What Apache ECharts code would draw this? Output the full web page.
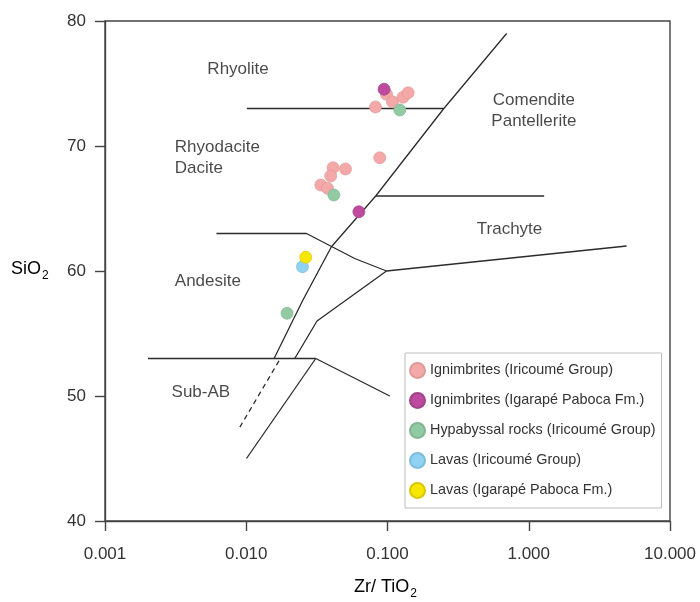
<!DOCTYPE html>
<html><head><meta charset="utf-8">
<script src="https://cdn.jsdelivr.net/npm/echarts@6/dist/echarts.min.js"></script>
<style>html,body{margin:0;padding:0;background:#fff}#c{width:700px;height:602px}</style>
</head><body><div id="c"></div>
<script>
// ---- tick labels ----
const xTickValues = [0.001, 0.01, 0.1, 1, 10];
const yTickValues = [40, 50, 60, 70, 80];

// ---- sample series (Zr/TiO2, SiO2) ----
const seriesNames = [
  'Ignimbrites (Iricoumé Group)',
  'Ignimbrites (Igarapé Paboca Fm.)',
  'Hypabyssal rocks (Iricoumé Group)',
  'Lavas (Iricoumé Group)',
  'Lavas (Igarapé Paboca Fm.)'
];
const ignimbritesIricoume = [
  [0.0984, 74.14], [0.1084, 73.54], [0.1288, 73.90], [0.140, 74.26], [0.0822, 73.12],
  [0.0881, 69.06], [0.0412, 68.26], [0.0504, 68.16], [0.0396, 67.60], [0.0337, 66.88], [0.0376, 66.62]
];
const ignimbritesPaboca = [[0.0946, 74.54], [0.0627, 64.74]];
const hypabyssalIricoume = [[0.1222, 72.88], [0.0417, 66.08], [0.01945, 56.62]];
const lavasIricoume = [[0.0250, 60.34]];
const lavasPaboca = [[0.02638, 61.10]];

// ---- classification boundaries (Zr/TiO2, SiO2) ----
const lineRhyolite = [[0.0101, 73], [0.2506, 73]];
const lineComendite = [[0.697, 79.0], [0.2506, 73], [0.0825, 66], [0.0401, 61.94], [0.0252, 57.68], [0.01574, 53]];
const lineTrachyte = [[0.0825, 66], [1.285, 66]];
const lineAndesite = [[0.00615, 63], [0.0267, 63], [0.0586, 61.0], [0.0984, 60], [4.93, 62]];
const lineTrachyandesite = [[0.0984, 60], [0.0317, 56], [0.02205, 53]];
const lineSubAB = [[0.002016, 53], [0.03105, 53]];
const lineSubABRight = [[0.03105, 53], [0.1038, 50]];
const lineSubABLower = [[0.03105, 53], [0.01004, 45]];
const lineDashed = [[0.01706, 52.82], [0.009, 47.5]];

// ---- field names ----
const fieldNames = ['Rhyolite', 'Rhyodacite\nDacite', 'Andesite', 'Sub-AB', 'Comendite\nPantellerite', 'Trachyte'];
const fieldAnchors = [[0.00875, 76.16], [0.00312, 69.09], [0.00312, 59.14], [0.00296, 50.26], [1.087, 72.85], [0.731, 63.34]];
const fieldAlign = ['center', 'left', 'left', 'left', 'center', 'center'];

const FONT = 'Liberation Sans, Arial, sans-serif';
const colors = ['#f4a9a8', '#bd4a9f', '#92caa4', '#8fd2f2', '#f7e600'];
const borders = ['#dc9a9a', '#a04488', '#80b692', '#7cbcdc', '#d8c800'];
const dataSets = [ignimbritesIricoume, ignimbritesPaboca, hypabyssalIricoume, lavasIricoume, lavasPaboca];

const chart = echarts.init(document.getElementById('c'), null, {renderer: 'canvas'});

function boundary(data, dashed) {
  return {
    type: 'line', data: data, symbol: 'none', silent: true, z: 2,
    lineStyle: {color: '#2b2b2b', width: 1.3, type: dashed ? [5, 4] : 'solid'},
    animation: false
  };
}

const series = [
  boundary(lineRhyolite), boundary(lineComendite), boundary(lineTrachyte), boundary(lineAndesite),
  boundary(lineTrachyandesite), boundary(lineSubAB), boundary(lineSubABRight), boundary(lineSubABLower),
  boundary(lineDashed, true),
  {
    type: 'scatter', silent: true, symbolSize: 0, z: 3, animation: false,
    data: fieldNames.map((n, i) => ({
      name: n, value: fieldAnchors[i],
      label: {align: fieldAlign[i]}
    })),
    label: {show: true, position: 'inside', formatter: '{b}', color: '#1a1a1a', fontSize: 17,
      fontFamily: FONT, lineHeight: 21, verticalAlign: 'middle'}
  }
];
seriesNames.forEach((n, i) => {
  series.push({
    name: n, type: 'scatter', data: dataSets[i], symbol: 'circle', symbolSize: 12, z: 5,
    itemStyle: {color: colors[i], borderColor: borders[i], borderWidth: 0.7, opacity: 1},
    animation: false
  });
});

chart.setOption({
  backgroundColor: '#fff',
  animation: false,
  grid: {left: 105, top: 21, width: 565, height: 500, show: true, borderColor: '#444', borderWidth: 1.4, backgroundColor: 'transparent'},
  xAxis: {
    type: 'log', logBase: 10, min: xTickValues[0], max: xTickValues[xTickValues.length - 1],
    axisLine: {lineStyle: {color: '#444', width: 1.4}},
    axisTick: {show: true, length: 10, lineStyle: {color: '#444', width: 1.4}},
    axisLabel: {fontSize: 17, color: '#333', fontFamily: FONT, margin: 25,
      formatter: v => Number(v).toFixed(3)},
    splitLine: {show: false}, minorTick: {show: false}
  },
  yAxis: {
    type: 'value', min: yTickValues[0], max: yTickValues[yTickValues.length - 1], interval: 10,
    axisLine: {lineStyle: {color: '#444', width: 1.4}},
    axisTick: {show: true, length: 10, lineStyle: {color: '#444', width: 1.4}},
    axisLabel: {fontSize: 17, color: '#333', fontFamily: FONT, margin: 19},
    splitLine: {show: false}
  },
  legend: {
    data: seriesNames, orient: 'vertical', left: 405, top: 353,
    itemWidth: 15, itemHeight: 15, itemGap: 13, icon: 'circle',
    padding: [9, 6, 9, 4], borderColor: '#bdbdbd', borderWidth: 1, backgroundColor: '#fff',
    textStyle: {fontSize: 14.4, color: '#333', fontFamily: FONT}
  },
  graphic: [
    {type: 'text', left: 11, top: 260, style: {
      text: '{a|SiO}{b|2}', fontFamily: FONT,
      rich: {a: {fontSize: 18, color: '#333', fontFamily: FONT, lineHeight: 22, verticalAlign: 'bottom'},
             b: {fontSize: 12, color: '#333', fontFamily: FONT, lineHeight: 14, verticalAlign: 'bottom', padding: [0, 0, -4, 1]}}}},
    {type: 'text', left: 354, top: 578, style: {
      text: '{a|Zr/ TiO}{b|2}', fontFamily: FONT,
      rich: {a: {fontSize: 18, color: '#333', fontFamily: FONT, lineHeight: 22, verticalAlign: 'bottom'},
             b: {fontSize: 12, color: '#333', fontFamily: FONT, lineHeight: 14, verticalAlign: 'bottom', padding: [0, 0, -4, 1]}}}}
  ],
  series: series
});
</script></body></html>
